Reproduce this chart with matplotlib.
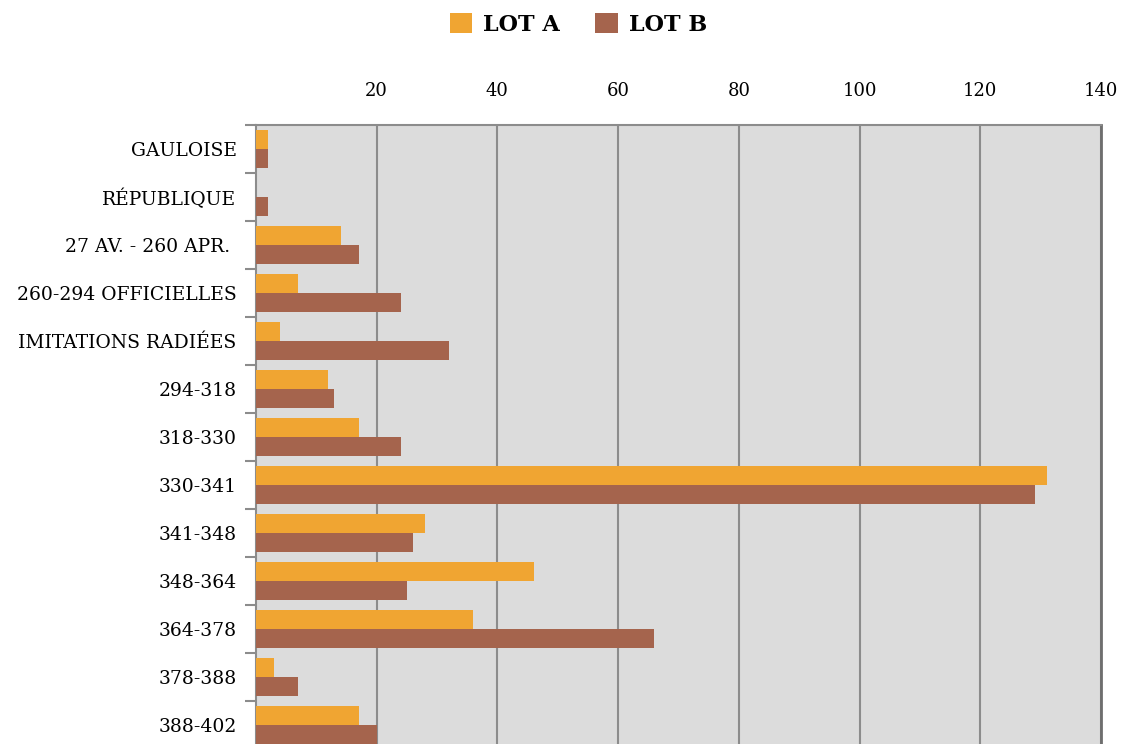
import matplotlib.pyplot as plt
import numpy as np

categories = ['GAULOISE', 'RÉPUBLIQUE', '27 AV. - 260 APR. ', '260-294 OFFICIELLES',
              'IMITATIONS RADIÉES', '294-318', '318-330', '330-341', '341-348',
              '348-364', '364-378', '378-388', '388-402']
lot_a = [2, 0, 14, 7, 4, 12, 17, 131, 28, 46, 36, 3, 17]
lot_b = [2, 2, 17, 24, 32, 13, 24, 129, 26, 25, 66, 7, 20]
xticks = [20, 40, 60, 80, 100, 120, 140]

plt.rcParams['font.family'] = ['DejaVu Serif']

fig = plt.figure(figsize=(11.21, 7.44), dpi=100)
ax = fig.add_axes([256 / 1121, -5 / 744, 845 / 1121, 624 / 744])
ax.set_facecolor('#dcdcdc')

y = np.arange(len(categories))
h = 0.395
ax.barh(y - h / 2, lot_a, height=h, color='#f0a532', label='LOT A', zorder=3)
ax.barh(y + h / 2, lot_b, height=h, color='#a5644d', label='LOT B', zorder=3)

ax.set_xlim(0, 140)
ax.set_ylim(len(categories) - 0.5, -0.5)

ax.xaxis.tick_top()
ax.set_xticks(xticks)
ax.set_xticklabels([str(v) for v in xticks], fontsize=13)
ax.tick_params(axis='x', length=0, pad=18)
ax.grid(axis='x', color='#8c8c8c', linewidth=1.5, zorder=1)

ax.set_yticks(y)
ax.set_yticklabels(categories, fontsize=13.5)
ax.set_yticks(np.arange(len(categories) + 1) - 0.5, minor=True)
ax.tick_params(axis='y', which='major', length=0, pad=14)
ax.tick_params(axis='y', which='minor', length=8, width=1.5, color='#8c8c8c')

for side in ['top', 'left']:
    ax.spines[side].set_color('#8c8c8c')
    ax.spines[side].set_linewidth(1.5)
ax.spines['right'].set_color('#6e6e6e')
ax.spines['right'].set_linewidth(2)
ax.spines['bottom'].set_visible(False)

fig.legend(loc='upper center', bbox_to_anchor=(0.516, 1.009), ncol=2, frameon=False,
           prop={'weight': 'bold', 'size': 16}, handlelength=1.0, handleheight=1.0,
           columnspacing=1.6, handletextpad=0.5)

fig.savefig('out.png', dpi=100)
